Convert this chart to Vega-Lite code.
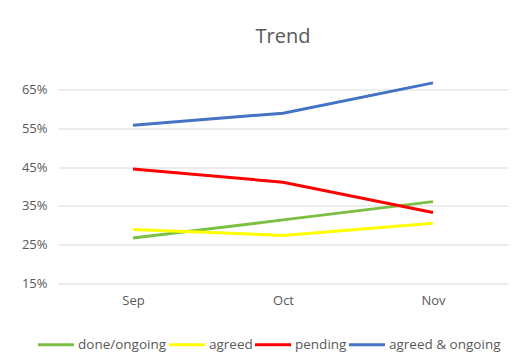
{
  "$schema": "https://vega.github.io/schema/vega-lite/v6.json",
  "width": 450,
  "height": 194,
  "autosize": {"type": "none"},
  "padding": {"left": 58, "top": 89.5, "right": 16, "bottom": 73.5},
  "background": "white",
  "title": {"text": "Trend", "anchor": "middle", "fontSize": 20, "font": "Open Sans", "fontWeight": "normal", "color": "#595959", "offset": 30},
  "data": {"values": [
    {"month": "Sep", "series": "done/ongoing", "value": 0.267},
    {"month": "Oct", "series": "done/ongoing", "value": 0.314},
    {"month": "Nov", "series": "done/ongoing", "value": 0.361},
    {"month": "Sep", "series": "agreed", "value": 0.289},
    {"month": "Oct", "series": "agreed", "value": 0.274},
    {"month": "Nov", "series": "agreed", "value": 0.305},
    {"month": "Sep", "series": "pending", "value": 0.445},
    {"month": "Oct", "series": "pending", "value": 0.411},
    {"month": "Nov", "series": "pending", "value": 0.333},
    {"month": "Sep", "series": "agreed & ongoing", "value": 0.558},
    {"month": "Oct", "series": "agreed & ongoing", "value": 0.589},
    {"month": "Nov", "series": "agreed & ongoing", "value": 0.667}
  ]},
  "mark": {"type": "line", "strokeWidth": 3, "clip": false},
  "encoding": {
    "x": {"field": "month", "type": "ordinal", "sort": ["Sep", "Oct", "Nov"],
      "scale": {"type": "point", "padding": 0.5},
      "axis": {"title": null, "labelAngle": 0, "domain": false, "ticks": false, "labelPadding": 11, "labelFontSize": 13, "labelFont": "Open Sans", "labelColor": "#595959", "grid": false}},
    "y": {"field": "value", "type": "quantitative",
      "scale": {"domain": [0.15, 0.65], "nice": false, "zero": false},
      "axis": {"title": null, "values": [0.15, 0.25, 0.35, 0.45, 0.55, 0.65], "format": ".0%", "domain": false, "ticks": false, "labelPadding": 11, "labelFontSize": 13, "labelFont": "Open Sans", "labelColor": "#595959", "gridColor": "#D9D9D9", "gridWidth": 1}},
    "color": {"field": "series", "type": "nominal",
      "scale": {"domain": ["done/ongoing", "agreed", "pending", "agreed & ongoing"], "range": ["#7BC043", "#FFFF00", "#FF0000", "#4472C4"]},
      "legend": {"title": null, "orient": "none", "direction": "horizontal", "legendX": -22, "legendY": 235, "symbolType": "stroke", "symbolSize": 1300, "symbolStrokeWidth": 3, "labelFontSize": 13.5, "labelFont": "Open Sans", "labelColor": "#595959", "columnPadding": -9, "labelOffset": 2}}
  },
  "config": {"view": {"stroke": null}}
}
